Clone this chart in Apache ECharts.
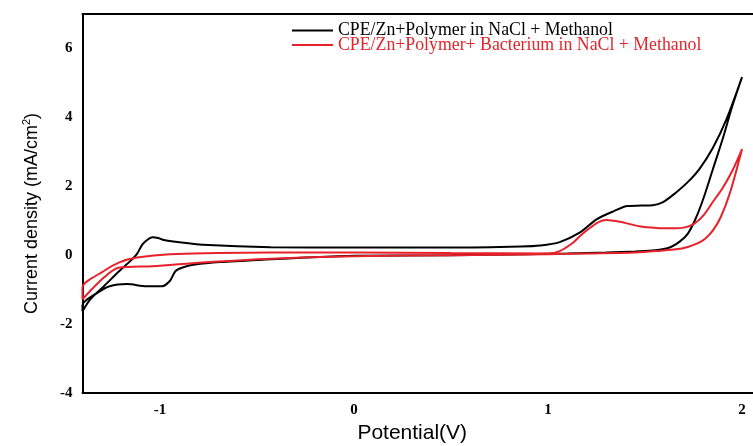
<!DOCTYPE html>
<html>
<head>
<meta charset="utf-8">
<script src="https://cdn.jsdelivr.net/npm/echarts@6/dist/echarts.min.js"></script>
<style>
  html, body { margin: 0; padding: 0; background: #fff; }
  #chart { width: 753px; height: 446px; }
</style>
</head>
<body>
<div id="chart"></div>
<script>
// tick labels
const xTicks = [-1, 0, 1, 2];
const yTicks = [-4, -2, 0, 2, 4, 6];

const seriesNames = [
  "CPE/Zn+Polymer in NaCl + Methanol",
  "CPE/Zn+Polymer+ Bacterium in NaCl + Methanol"
];

// black loop: return sweep from 2 V down to -1.4 V, then forward sweep back up
const blackV = [2.0, 1.95, 1.90, 1.85, 1.80, 1.76, 1.72, 1.68, 1.63, 1.55, 1.45, 1.30, 1.10, 0.9,
  0.5, 0.0, -0.25, -0.43, -0.69, -0.82, -0.88, -0.92, -0.95, -0.99, -1.07, -1.17, -1.26, -1.32, -1.40,
  -1.40, -1.36, -1.29, -1.21, -1.15, -1.12, -1.09, -1.06, -1.04, -1.01, -0.98, -0.91, -0.78, -0.43,
  0.0, 0.5, 0.86, 0.96, 1.06, 1.165, 1.25, 1.34, 1.41, 1.48, 1.54, 1.59, 1.66, 1.72, 1.78, 1.85,
  1.92, 2.0];
const blackI = [5.17, 4.33, 3.37, 2.5, 1.63, 1.05, 0.62, 0.40, 0.23, 0.14, 0.11, 0.08, 0.05, 0.03,
  0.0, -0.02, -0.07, -0.12, -0.2, -0.27, -0.35, -0.46, -0.75, -0.9, -0.9, -0.84, -0.9, -1.08, -1.45,
  -1.63, -1.28, -0.9, -0.46, -0.15, 0.03, 0.32, 0.47, 0.52, 0.5, 0.44, 0.38, 0.3, 0.23,
  0.22, 0.22, 0.25, 0.28, 0.38, 0.66, 1.04, 1.28, 1.43, 1.44, 1.45, 1.53, 1.82, 2.12, 2.5, 3.12,
  3.95, 5.17];

// red loop
const redV = [2.0, 1.94, 1.89, 1.85, 1.81, 1.77, 1.72, 1.66, 1.58, 1.45, 1.2, 1.0, 0.5, 0.0, -0.43,
  -0.78, -1.04, -1.21, -1.29, -1.40,
  -1.40, -1.29, -1.21, -1.12, -0.95, -0.43, 0.0, 0.5, 1.0, 1.06, 1.13, 1.165, 1.22, 1.26, 1.30,
  1.37, 1.47, 1.56, 1.64, 1.70, 1.75, 1.80, 1.85, 1.90, 1.95, 2.0];
const redI = [3.08, 1.85, 1.1, 0.72, 0.48, 0.34, 0.24, 0.17, 0.13, 0.08, 0.05, 0.03, 0.0, -0.03, -0.1,
  -0.21, -0.32, -0.36, -0.65, -1.28,
  -0.94, -0.46, -0.21, -0.07, 0.03, 0.08, 0.08, 0.06, 0.05, 0.12, 0.37, 0.56, 0.81, 0.96, 1.02,
  0.97, 0.84, 0.79, 0.78, 0.8, 0.9, 1.15, 1.55, 1.95, 2.45, 3.08];

const toPairs = (xs, ys) => xs.map((v, i) => [v, ys[i]]);

const chart = echarts.init(document.getElementById("chart"), null, {renderer: "canvas"});

const serifBold = {
  fontFamily: "Liberation Serif",
  fontWeight: "bold",
  fontSize: 15,
  color: "#000"
};

const frameLine = {show: true, onZero: false, lineStyle: {color: "#000", width: 2}};

const option = {
  animation: false,
  backgroundColor: "#fff",
  grid: {
    left: 82.5,
    top: 14,
    right: -3,
    bottom: 53,
    outerBoundsMode: "none"
  },
  legend: {
    orient: "vertical",
    left: 292,
    top: 21.5,
    padding: 0,
    itemWidth: 41,
    itemHeight: 2,
    itemGap: -3.5,
    icon: "rect",
    textStyle: {
      fontFamily: "Liberation Serif",
      fontSize: 17.8,
      lineHeight: 13.5,
      padding: [0, 0, 0, 0]
    },
    data: [
      {name: seriesNames[0], textStyle: {color: "#000"}},
      {name: seriesNames[1], textStyle: {color: "#e0262c"}}
    ]
  },
  xAxis: [
    {
      type: "value",
      min: -1.4,
      max: 2.072,
      name: "Potential(V)",
      nameLocation: "middle",
      nameGap: 30,
      nameTextStyle: {fontFamily: "Liberation Sans", fontSize: 21, color: "#000", padding: [0, 14, 0, 0]},
      axisLine: frameLine,
      axisTick: {show: false},
      splitLine: {show: false},
      axisLabel: Object.assign({}, serifBold, {
        customValues: xTicks,
        margin: 10,
        formatter: (v) => String(v)
      })
    },
    {
      // top frame line only
      type: "value",
      position: "top",
      min: -1.4,
      max: 2.072,
      axisLine: frameLine,
      axisTick: {show: false},
      axisLabel: {show: false},
      splitLine: {show: false}
    }
  ],
  yAxis: {
    type: "value",
    min: -4,
    max: 7,
    name: "{a|Current density (mA/cm}{s|2}{a|)}",
    nameLocation: "middle",
    nameGap: 40,
    nameRotate: 90,
    nameTextStyle: {
      padding: [0, 20, 0, 0],
      rich: {
        a: {fontFamily: "Liberation Sans", fontSize: 18, color: "#000"},
        s: {fontFamily: "Liberation Sans", fontSize: 11, color: "#000", verticalAlign: "top", padding: [0, 0, 10, 0]}
      }
    },
    axisLine: frameLine,
    axisTick: {show: false},
    splitLine: {show: false},
    axisLabel: Object.assign({}, serifBold, {
      customValues: yTicks,
      margin: 10,
      formatter: (v) => String(v)
    })
  },
  series: [
    {
      name: seriesNames[0],
      type: "line",
      data: toPairs(blackV, blackI),
      showSymbol: false,
      symbol: "none",
      smooth: 0.3,
      color: "#000",
      lineStyle: {width: 2, color: "#000"}
    },
    {
      name: seriesNames[1],
      type: "line",
      data: toPairs(redV, redI),
      showSymbol: false,
      symbol: "none",
      smooth: 0.3,
      color: "#e8202a",
      lineStyle: {width: 2, color: "#e8202a"}
    }
  ]
};

chart.setOption(option);
</script>
</body>
</html>
